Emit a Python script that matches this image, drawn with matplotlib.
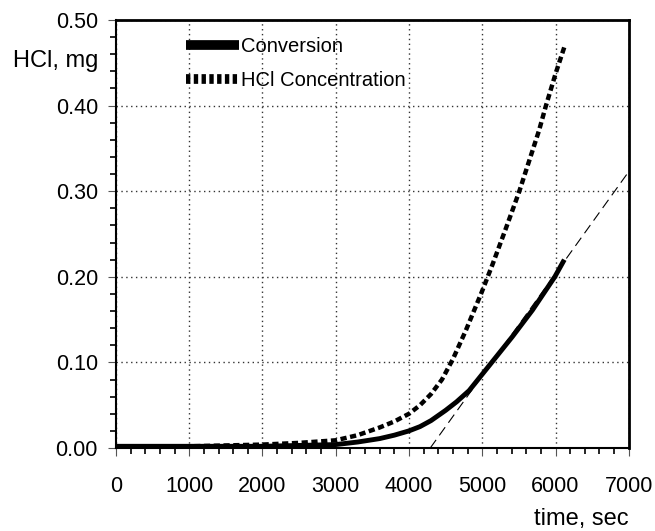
import numpy as np
import matplotlib
matplotlib.use("Agg")
import matplotlib.pyplot as plt
from matplotlib.lines import Line2D
from matplotlib.ticker import MultipleLocator

plt.rcParams["font.family"] = ["Liberation Sans", "DejaVu Sans"]

# values
t_conv = [0, 1000, 2000, 2500, 3000, 3300, 3600, 3800, 4000, 4150, 4300, 4500, 4650,
          4820, 5092, 5410, 5684, 5990, 6120]
conversion = [0.002, 0.002, 0.002, 0.003, 0.004, 0.007, 0.011, 0.015, 0.020, 0.025,
              0.032, 0.044, 0.054, 0.067, 0.096, 0.130, 0.161, 0.200, 0.220]

t_hcl = [0, 1000, 2000, 2500, 3000, 3300, 3600, 3800, 4000, 4150, 4300, 4450, 4600,
         4774, 4992, 5138, 5320, 5502, 5775, 5866, 6003, 6130]
hcl_conc = [0.002, 0.002, 0.004, 0.006, 0.009, 0.015, 0.024, 0.031, 0.040, 0.050,
            0.063, 0.080, 0.104, 0.137, 0.182, 0.214, 0.256, 0.299, 0.371, 0.399,
            0.438, 0.471]

# thin tangent line to the conversion curve
t_tangent = [4290, 7000]
tangent = [0.0, 0.323]

fig = plt.figure(figsize=(6.55, 5.31), dpi=100)
ax = fig.add_axes([0.177, 0.1563, 0.783, 0.806])

ax.plot(t_conv, conversion, color="black", lw=3.5, solid_capstyle="butt",
        solid_joinstyle="round", zorder=3)
ax.plot(t_hcl, hcl_conc, color="black", lw=3.2, ls=(0, (1.4, 0.8)), zorder=3)
ax.plot(t_tangent, tangent, color="black", lw=0.8, ls=(0, (9, 5)), zorder=2)

ax.set_xlim(0, 7000)
ax.set_ylim(0, 0.5)
ax.xaxis.set_major_locator(MultipleLocator(1000))
ax.xaxis.set_minor_locator(MultipleLocator(200))
ax.yaxis.set_major_locator(MultipleLocator(0.1))
ax.yaxis.set_minor_locator(MultipleLocator(0.02))
ax.yaxis.set_major_formatter(plt.FormatStrFormatter("%.2f"))

ax.tick_params(axis="both", which="both", direction="out", top=False, right=False)
ax.tick_params(axis="both", which="minor", length=4.5, width=1.2)
ax.tick_params(axis="both", which="major", length=6, width=0.8, color="#555555",
               labelsize=15.5)
ax.tick_params(axis="x", which="major", pad=14)
ax.tick_params(axis="y", which="major", pad=7)

ax.grid(True, which="major", color="#333333", lw=1.0, ls=(0, (1, 2.5)))
for sp in ax.spines.values():
    sp.set_linewidth(1.5)
ax.spines["top"].set_linewidth(2)
ax.spines["right"].set_linewidth(2)

handles = [
    Line2D([], [], color="black", lw=7, solid_capstyle="butt"),
    Line2D([], [], color="black", lw=7, ls=(0, (0.45, 0.35))),
]
ax.legend(handles, ["Conversion", "HCl Concentration"], loc="upper left",
          bbox_to_anchor=(0.137, 0.96), frameon=False, fontsize=14.5,
          handlelength=2.6, handletextpad=0.1, labelspacing=0.75, borderpad=0,
          borderaxespad=0)

fig.text(0.02, 0.874, "HCl, mg", fontsize=17, va="baseline", ha="left")
fig.text(0.959, 0.0113, "time, sec", fontsize=17, va="baseline", ha="right")

fig.savefig("out.png", dpi=100)
